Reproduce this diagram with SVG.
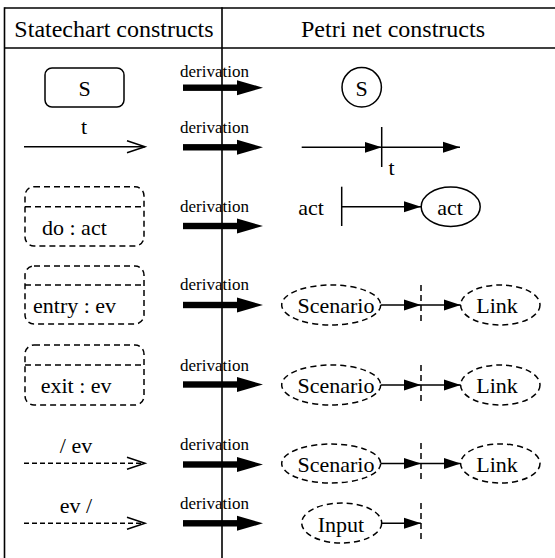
<svg xmlns="http://www.w3.org/2000/svg" xmlns:xlink="http://www.w3.org/1999/xlink" width="555" height="558" viewBox="0 0 555 558">
<style>
text{font-family:"Liberation Serif","Times New Roman",serif;fill:#000}
.hdr{font-size:24px;text-anchor:middle}
.lbl{font-size:22px}
.mid{text-anchor:middle}
.der{font-size:17px}
.ln{stroke:#000;stroke-width:1.5;fill:none}
.tb{stroke:#000;stroke-width:1.6;fill:none}
.dash{stroke:#000;stroke-width:1.5;fill:none;stroke-dasharray:6,4}
.dsh{stroke:#000;stroke-width:1.5;fill:none;stroke-dasharray:5,3}
.arr{stroke:#000;stroke-width:1.5;fill:none;marker-end:url(#fa)}
</style>
<defs>
<marker id="fa" markerUnits="userSpaceOnUse" markerWidth="18" markerHeight="12" refX="17" refY="6" orient="auto">
<path d="M0,0.5 L17,6 L0,11.5 Z" fill="#000"/>
</marker>
<g id="deriv">
<rect x="183" y="-3.2" width="56" height="6.4" fill="#000"/>
<path d="M237,-7.5 L263,0 L237,7.5 Z" fill="#000"/>
</g>
</defs>

<g id="table">
<line class="tb" x1="4.5" y1="8" x2="555" y2="8"/>
<line class="tb" x1="4.5" y1="48" x2="555" y2="48"/>
<line class="tb" x1="4.5" y1="7.2" x2="4.5" y2="558"/>
<line class="tb" x1="222" y1="7.2" x2="222" y2="558"/>
<text class="hdr" x="114" y="37">Statechart constructs</text>
<text class="hdr" x="393" y="37">Petri net constructs</text>
</g>

<g id="connectors">
<!-- derivation arrows -->
<use xlink:href="#deriv" transform="translate(0,87.7)"/>
<use xlink:href="#deriv" transform="translate(0,147.3)"/>
<use xlink:href="#deriv" transform="translate(0,226)"/>
<use xlink:href="#deriv" transform="translate(0,305)"/>
<use xlink:href="#deriv" transform="translate(0,384.5)"/>
<use xlink:href="#deriv" transform="translate(0,464.5)"/>
<use xlink:href="#deriv" transform="translate(0,523.3)"/>
<text class="der" x="180" y="76.5">derivation</text>
<text class="der" x="180" y="133">derivation</text>
<text class="der" x="180" y="211.5">derivation</text>
<text class="der" x="180" y="289.5">derivation</text>
<text class="der" x="180" y="370.5">derivation</text>
<text class="der" x="180" y="449.5">derivation</text>
<text class="der" x="180" y="508.5">derivation</text>

<!-- left column transitions -->
<line class="ln" x1="24" y1="146.7" x2="145" y2="146.7"/>
<path class="ln" d="M127,140.7 L145,146.7 L127,152.7"/>
<line class="dsh" x1="24" y1="463.3" x2="144" y2="463.3"/>
<path class="ln" d="M127,457.3 L145,463.3 L127,469.3"/>
<line class="dsh" x1="24" y1="523.3" x2="144" y2="523.3"/>
<path class="ln" d="M127,517.3 L145,523.3 L127,529.3"/>

<!-- petri arcs -->
<line class="arr" x1="301.7" y1="147.3" x2="381.7" y2="147.3"/>
<line class="arr" x1="381.7" y1="147.3" x2="460" y2="147.3"/>
<line class="arr" x1="341.7" y1="206.7" x2="421" y2="206.7"/>
<line class="arr" x1="380.7" y1="305" x2="421" y2="305"/>
<line class="arr" x1="421" y1="305" x2="460.7" y2="305"/>
<line class="arr" x1="380.7" y1="385" x2="421" y2="385"/>
<line class="arr" x1="421" y1="385" x2="460.7" y2="385"/>
<line class="arr" x1="380.7" y1="463.5" x2="421" y2="463.5"/>
<line class="arr" x1="421" y1="463.5" x2="460.7" y2="463.5"/>
<line class="arr" x1="381.7" y1="523.3" x2="421" y2="523.3"/>
</g>

<g id="sc-state">
<rect class="ln" x="45" y="68" width="79" height="39" rx="7"/>
<text class="lbl mid" x="84.5" y="96">S</text>
</g>
<g id="sc-t"><text class="lbl mid" x="84" y="134">t</text></g>
<g id="sc-do">
<rect class="dash" x="25" y="186.7" width="119" height="59.3" rx="9"/>
<line class="dash" x1="25" y1="206.7" x2="144" y2="206.7"/>
<text class="lbl" x="42" y="235">do : act</text>
</g>
<g id="sc-entry">
<rect class="dash" x="25" y="266" width="119" height="58" rx="9"/>
<line class="dash" x1="25" y1="285" x2="144" y2="285"/>
<text class="lbl" x="33" y="313">entry : ev</text>
</g>
<g id="sc-exit">
<rect class="dash" x="25" y="345" width="119" height="60" rx="9"/>
<line class="dash" x1="25" y1="365" x2="144" y2="365"/>
<text class="lbl" x="40.7" y="393">exit : ev</text>
</g>
<g id="sc-send"><text class="lbl mid" x="76" y="453">/ ev</text></g>
<g id="sc-recv"><text class="lbl mid" x="76" y="513">ev /</text></g>

<g id="pn-place-s">
<circle class="ln" cx="361.7" cy="87.3" r="19.7"/>
<text class="lbl mid" x="361.7" y="95.5">S</text>
</g>
<g id="pn-trans-t">
<line class="ln" x1="381.7" y1="127" x2="381.7" y2="167"/>
<text class="lbl mid" x="391.5" y="175">t</text>
</g>
<g id="pn-act-trans">
<text class="lbl mid" x="311" y="215">act</text>
<line class="ln" x1="341.7" y1="186.7" x2="341.7" y2="226"/>
</g>
<g id="pn-act-place">
<ellipse class="ln" cx="450.7" cy="206.7" rx="29.5" ry="19.7"/>
<text class="lbl mid" x="450" y="215">act</text>
</g>

<g id="pn-scenario1">
<ellipse class="dash" cx="331.2" cy="305" rx="49.5" ry="20"/>
<text class="lbl mid" x="336" y="313">Scenario</text>
</g>
<g id="pn-bar1"><line class="dash" x1="421" y1="285" x2="421" y2="325"/></g>
<g id="pn-link1">
<ellipse class="dash" cx="500.3" cy="305" rx="39.7" ry="20"/>
<text class="lbl mid" x="497" y="313">Link</text>
</g>

<g id="pn-scenario2">
<ellipse class="dash" cx="331.2" cy="385" rx="49.5" ry="20"/>
<text class="lbl mid" x="336" y="393">Scenario</text>
</g>
<g id="pn-bar2"><line class="dash" x1="421" y1="365" x2="421" y2="405"/></g>
<g id="pn-link2">
<ellipse class="dash" cx="500.3" cy="385" rx="39.7" ry="20"/>
<text class="lbl mid" x="497" y="393">Link</text>
</g>

<g id="pn-scenario3">
<ellipse class="dash" cx="331.2" cy="463.5" rx="49.5" ry="19.5"/>
<text class="lbl mid" x="336" y="472">Scenario</text>
</g>
<g id="pn-bar3"><line class="dash" x1="421" y1="443" x2="421" y2="483"/></g>
<g id="pn-link3">
<ellipse class="dash" cx="500.3" cy="463.5" rx="39.7" ry="19.5"/>
<text class="lbl mid" x="497" y="472">Link</text>
</g>

<g id="pn-input">
<ellipse class="dash" cx="341.7" cy="523" rx="40" ry="20"/>
<text class="lbl mid" x="341" y="531.5">Input</text>
</g>
<g id="pn-bar4"><line class="dash" x1="421" y1="503" x2="421" y2="543"/></g>
</svg>
